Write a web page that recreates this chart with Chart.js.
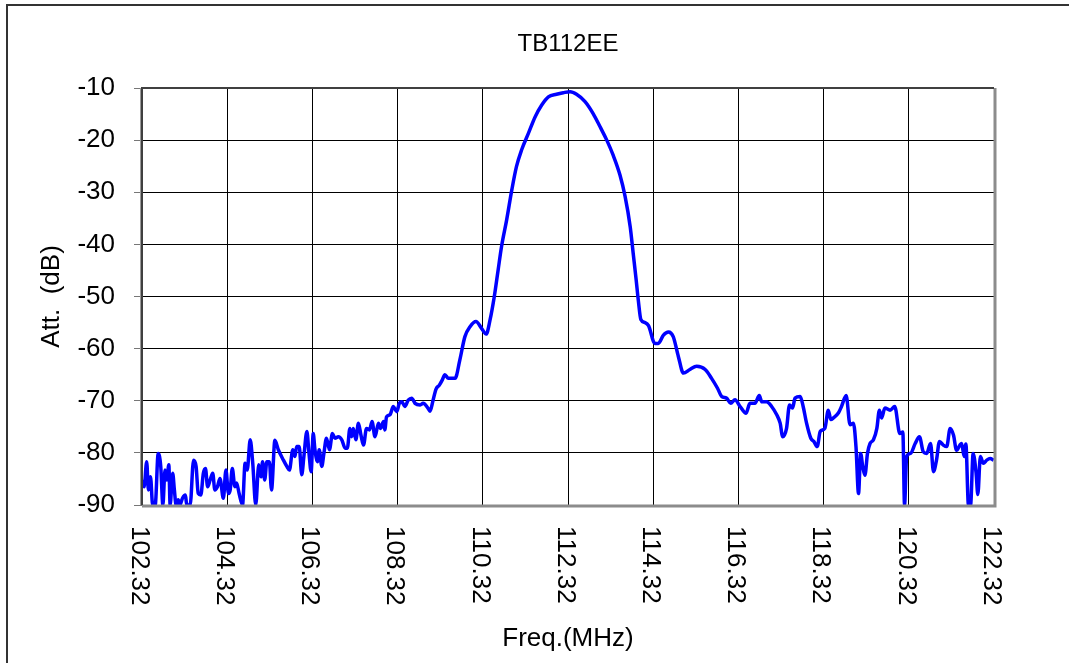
<!DOCTYPE html>
<html>
<head>
<meta charset="utf-8">
<script src="https://cdn.jsdelivr.net/npm/chart.js@4/dist/chart.umd.min.js"></script>
<style>
  html, body { margin: 0; padding: 0; background: #fff; }
  #wrap { width: 1069px; height: 663px; position: relative; }
</style>
</head>
<body>
<div id="wrap"><canvas id="filterChart"></canvas></div>
<script>
var chartTitle = 'TB112EE';
var xTitle = 'Freq.(MHz)';
var yTitle = 'Att.  (dB)';

var xTicks = [102.32, 104.32, 106.32, 108.32, 110.32, 112.32, 114.32, 116.32, 118.32, 120.32, 122.32];
var xTickLabels = ['102.32', '104.32', '106.32', '108.32', '110.32', '112.32', '114.32', '116.32', '118.32', '120.32', '122.32'];
var yTicks = [-10, -20, -30, -40, -50, -60, -70, -80, -90];

// frequency (MHz) and attenuation (dB)
var freqs = [
  102.32, 102.37, 102.43, 102.47, 102.52, 102.57, 102.63, 102.70, 102.76, 102.81,
  102.86, 102.90, 102.95, 102.98, 103.04, 103.08, 103.12, 103.17, 103.21, 103.27,
  103.34, 103.37, 103.45, 103.53, 103.59, 103.64, 103.70, 103.76, 103.81, 103.86,
  103.92, 103.98, 104.03, 104.09, 104.15, 104.23, 104.29, 104.35, 104.39, 104.44,
  104.50, 104.54, 104.60, 104.68, 104.74, 104.79, 104.86, 104.92, 104.99, 105.06,
  105.11, 105.15, 105.20, 105.25, 105.31, 105.36, 105.44, 105.52, 105.64, 105.72,
  105.78, 105.86, 105.91, 105.95, 106.01, 106.07, 106.12, 106.19, 106.24, 106.29,
  106.34, 106.38, 106.44, 106.48, 106.54, 106.59, 106.65, 106.72, 106.79, 106.85,
  106.93, 107.01, 107.09, 107.14, 107.20, 107.24, 107.28, 107.34, 107.40, 107.46,
  107.52, 107.59, 107.66, 107.72, 107.79, 107.87, 107.92, 107.99, 108.02, 108.06,
  108.14, 108.22, 108.30, 108.36, 108.42, 108.49, 108.57, 108.65, 108.73, 108.85,
  108.92, 109.04, 109.08, 109.15, 109.22, 109.30, 109.37, 109.43, 109.51, 109.67,
  109.78, 109.90, 110.02, 110.16, 110.29, 110.40, 110.49, 110.59, 110.68, 110.76,
  110.88, 111.00, 111.11, 111.23, 111.39, 111.55, 111.70, 111.86, 112.05, 112.21,
  112.37, 112.52, 112.72, 112.91, 113.07, 113.23, 113.38, 113.54, 113.66, 113.78,
  113.85, 113.92, 113.97, 114.03, 114.13, 114.21, 114.36, 114.44, 114.56, 114.68,
  114.79, 114.91, 115.03, 115.18, 115.34, 115.54, 115.69, 115.83, 115.93, 116.04,
  116.14, 116.24, 116.36, 116.50, 116.59, 116.71, 116.81, 116.87, 116.98, 117.10,
  117.22, 117.30, 117.36, 117.45, 117.52, 117.59, 117.65, 117.77, 117.84, 117.92,
  118.02, 118.09, 118.17, 118.24, 118.35, 118.43, 118.49, 118.55, 118.67, 118.74,
  118.85, 118.94, 119.02, 119.08, 119.14, 119.19, 119.24, 119.29, 119.35, 119.41,
  119.49, 119.57, 119.63, 119.68, 119.76, 119.88, 119.99, 120.11, 120.18, 120.22,
  120.27, 120.36, 120.47, 120.57, 120.66, 120.74, 120.83, 120.90, 120.97, 121.04,
  121.13, 121.21, 121.29, 121.37, 121.44, 121.52, 121.56, 121.62, 121.66, 121.72,
  121.77, 121.83, 121.90, 121.94, 122.00, 122.07, 122.15, 122.23, 122.31
];
var atts = [
  -85.2, -86.5, -81.7, -87.1, -84.6, -90.0, -90.0, -80.1, -82.6, -90.0,
  -83.3, -85.2, -82.3, -90.0, -83.9, -87.1, -90.0, -89.0, -90.0, -88.7,
  -88.1, -90.0, -90.0, -81.4, -82.6, -87.8, -88.1, -83.9, -83.0, -86.5,
  -85.2, -83.9, -87.1, -86.5, -84.9, -88.7, -83.3, -87.8, -87.1, -83.0,
  -86.5, -85.8, -87.8, -90.0, -82.0, -83.3, -77.5, -82.0, -90.0, -82.3,
  -84.6, -81.7, -85.2, -81.7, -81.7, -87.1, -77.6, -79.4, -81.4, -82.6,
  -83.3, -79.4, -80.7, -78.8, -78.8, -84.2, -80.7, -75.9, -80.1, -83.6,
  -76.3, -79.4, -81.7, -79.4, -82.6, -80.1, -77.2, -79.4, -76.3, -77.2,
  -76.9, -77.5, -79.1, -79.1, -75.3, -76.9, -75.3, -77.5, -74.3, -76.6,
  -78.5, -75.3, -75.6, -74.0, -76.9, -74.3, -75.3, -74.0, -75.6, -73.1,
  -72.7, -71.1, -72.1, -70.5, -70.2, -71.1, -69.9, -69.5, -70.5, -70.8,
  -70.5, -71.5, -72.0, -70.0, -67.8, -67.0, -66.0, -65.0, -65.7, -65.7,
  -62.2, -57.7, -55.8, -54.8, -56.1, -57.2, -54.5, -50.0, -44.9, -40.4,
  -35.3, -29.6, -25.1, -21.9, -18.7, -15.5, -13.3, -11.7, -11.2, -10.9,
  -10.7, -11.2, -12.6, -14.9, -17.4, -20.0, -22.9, -26.7, -30.8, -36.6,
  -41.7, -46.8, -50.7, -54.4, -55.0, -55.6, -59.0, -59.0, -57.4, -56.8,
  -57.7, -61.5, -64.7, -64.0, -63.4, -64.0, -65.7, -67.6, -69.2, -69.5,
  -70.5, -69.8, -71.1, -72.4, -70.5, -70.5, -69.0, -70.2, -70.2, -71.1,
  -72.7, -74.3, -76.9, -75.3, -70.8, -71.4, -69.5, -69.2, -71.1, -74.3,
  -77.2, -77.8, -78.8, -75.9, -75.3, -71.8, -73.6, -73.3, -72.3, -71.1,
  -69.0, -74.6, -74.3, -78.8, -87.8, -80.1, -82.7, -84.3, -80.1, -78.2,
  -77.5, -75.3, -71.8, -73.3, -71.4, -71.8, -71.1, -76.3, -76.0, -90.0,
  -80.7, -80.1, -78.2, -76.9, -79.8, -80.1, -78.2, -83.6, -81.4, -77.8,
  -78.5, -78.8, -75.3, -76.6, -79.5, -78.5, -78.2, -80.7, -78.3, -90.0,
  -90.0, -80.1, -83.9, -88.0, -80.7, -82.0, -81.4, -81.1, -81.4
];

var fontFamily = "'Liberation Sans', Arial, sans-serif";

var points = freqs.map(function(f, i) { return { x: f, y: atts[i] }; });

// white page with the outer frame (top and left edges only)
var framePlugin = {
     id: 'frame',
     beforeDraw: function(chart) {
          var ctx = chart.ctx;
          ctx.save();
          ctx.fillStyle = '#ffffff';
          ctx.fillRect(0, 0, chart.width, chart.height);
          ctx.strokeStyle = '#333333';
          ctx.lineWidth = 2;
          ctx.beginPath();
          ctx.moveTo(7, chart.height);
          ctx.lineTo(7, 5);
          ctx.lineTo(chart.width, 5);
          ctx.stroke();
          ctx.restore();
     }
};

// plot border with grey shadow, and x labels written top-to-bottom
var plotBorderPlugin = {
     id: 'plotBorder',
     afterDatasetsDraw: function(chart) {
          var ctx = chart.ctx;
          var a = chart.chartArea;
          ctx.save();
          ctx.strokeStyle = '#8c8c8c';
          ctx.lineWidth = 3;
          ctx.beginPath();
          ctx.moveTo(a.right + 1, a.top);
          ctx.lineTo(a.right + 1, a.bottom + 1);
          ctx.lineTo(a.left, a.bottom + 1);
          ctx.stroke();
          ctx.strokeStyle = '#404040';
          ctx.lineWidth = 2;
          ctx.beginPath();
          ctx.moveTo(a.left, a.bottom);
          ctx.lineTo(a.left, a.top);
          ctx.lineTo(a.right, a.top);
          ctx.stroke();
          ctx.strokeStyle = '#9a9a9a';
          ctx.lineWidth = 1;
          ctx.beginPath();
          ctx.moveTo(a.left - 1.5, a.bottom);
          ctx.lineTo(a.left - 1.5, a.top);
          ctx.stroke();
          ctx.restore();
     },
     afterDraw: function(chart) {
          var ctx = chart.ctx;
          var xs = chart.scales.x;
          ctx.save();
          ctx.fillStyle = '#000000';
          ctx.font = '26px ' + fontFamily;
          ctx.textAlign = 'left';
          ctx.textBaseline = 'middle';
          xTicks.forEach(function(v, i) {
               var px = xs.getPixelForValue(v);
               ctx.save();
               ctx.translate(px - 3, chart.chartArea.bottom + 21);
               ctx.rotate(Math.PI / 2);
               ctx.fillText(xTickLabels[i], 0, 0);
               ctx.restore();
          });
          ctx.restore();
     }
};

new Chart(document.getElementById('filterChart'), {
     type: 'line',
     data: {
          datasets: [
               {
                    data: points,
                    borderColor: '#0000ff',
                    borderWidth: 3.5,
                    pointRadius: 0,
                    fill: false,
                    cubicInterpolationMode: 'monotone',
                    clip: 0
               }
          ]
     },
     options: {
          responsive: true,
          maintainAspectRatio: false,
          animation: false,
          layout: {
               padding: { left: 0, top: 0, right: 75, bottom: 0 }
          },
          plugins: {
               legend: { display: false },
               tooltip: { enabled: false },
               title: {
                    display: true,
                    text: chartTitle,
                    fullSize: false,
                    color: '#000000',
                    font: { family: fontFamily, size: 24, weight: 'normal' },
                    padding: { top: 29.6, bottom: 29.6 }
               }
          },
          scales: {
               x: {
                    type: 'linear',
                    min: 102.32,
                    max: 122.32,
                    afterBuildTicks: function(scale) {
                         scale.ticks = xTicks.map(function(v) { return { value: v }; });
                    },
                    afterFit: function(scale) {
                         scale.height = 158;
                    },
                    ticks: { display: false },
                    border: { display: false },
                    grid: {
                         color: '#000000',
                         lineWidth: 1,
                         drawTicks: false
                    },
                    title: {
                         display: true,
                         text: xTitle,
                         color: '#000000',
                         font: { family: fontFamily, size: 26 },
                         padding: { top: 0, bottom: 9 }
                    }
               },
               y: {
                    min: -90,
                    max: -10,
                    afterBuildTicks: function(scale) {
                         scale.ticks = yTicks.map(function(v) { return { value: v }; });
                    },
                    afterFit: function(scale) {
                         scale.width = 142;
                    },
                    ticks: {
                         color: '#000000',
                         padding: 19,
                         font: { family: fontFamily, size: 26 }
                    },
                    border: { display: false },
                    grid: {
                         color: '#000000',
                         lineWidth: 1,
                         tickColor: '#777777',
                         tickLength: 8
                    },
                    title: {
                         display: true,
                         text: yTitle,
                         color: '#000000',
                         font: { family: fontFamily, size: 26 },
                         padding: { top: 36, bottom: 0 }
                    }
               }
          }
     },
     plugins: [framePlugin, plotBorderPlugin]
});
</script>
</body>
</html>
